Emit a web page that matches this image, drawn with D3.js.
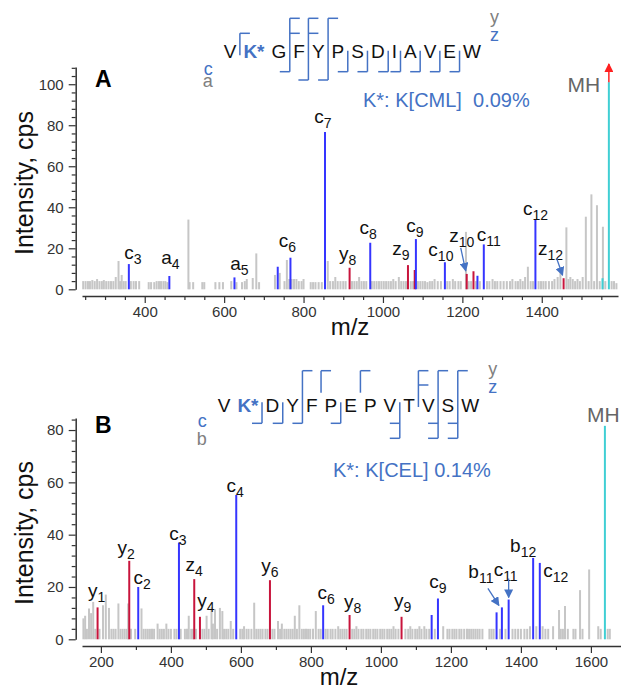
<!DOCTYPE html>
<html>
<head>
<meta charset="utf-8">
<script src="https://cdn.jsdelivr.net/npm/d3@7"></script>
<style>
  body { margin: 0; background: #fff; }
  svg { display: block; font-family: "Liberation Sans", Arial, sans-serif; }
</style>
</head>
<body>
<div id="container"></div>
<script>
// ---------- panel A : VK*GFYPSDIAVEW, K[CML] ----------
let seqA = ["V","K*","G","F","Y","P","S","D","I","A","V","E","W"];
// cleavage sites, counted as "after residue n"
let topYA = [3, 4, 5];
let topZA = [1, 3, 4];
let botCA = [3, 6, 7, 8, 9, 10, 11, 12];
let botNA = [4, 5];            // a ions
// [m/z, intensity, kind, ion letter, index]
let ionsA = [
  [360, 12.3, "N", "c", "3"], [462, 6.5, "N", "a", "4"], [626, 5.8, "N", "a", "5"],
  [735, 11, "N", "", ""], [767, 15.4, "N", "c", "6"], [854, 76.7, "N", "c", "7"],
  [916, 10.5, "C", "y", "8"], [968, 22.7, "N", "c", "8"], [1063, 11.8, "C", "z", "9"],
  [1080, 9.4, "C", "", ""], [1083, 24.5, "N", "c", "9"], [1156, 13.2, "N", "c", "10"],
  [1211, 7.5, "C", "z", "10"], [1228, 8.8, "C", "", ""], [1238, 6.6, "N", "", ""],
  [1254, 21.9, "N", "c", "11"], [1384, 34.1, "N", "c", "12"], [1455, 5.4, "C", "z", "12"],
  [1553, 5.4, "P", "", ""], [1569, 101, "P", "MH", ""]
];
let noiseA = [
  [245,4],[251,4],[257,4],[262,4],[268,4.5],[274,4],[280,5],[286,4],[292,4],[297,4.5],
  [303,4],[309,4],[315,4],[321,4],[327,6],[334,13.8],[338,4],[342,7],[347,4],[352,4],
  [365,4],[372,4],[378,4],[386,4],[410,3.5],[416,3.5],[424,3.5],[430,4],[436,4],[441,4],
  [447,4],[452,4],[457,3.5],[510,34],[513,3.5],[522,3.5],[545,3.5],[550,3.5],[578,3.5],
  [588,3.5],[597,3.5],[618,4],[631,3.5],[645,3.5],[652,4],[657,5],[672,5.5],[681,17.5],
  [688,3.5],[728,7],[740,8],[752,4],[758,14.3],[764,5],[770,5],[776,5],[782,5],[788,4],
  [795,4],[800,5],[818,3.5],[824,3.5],[830,3.5],[838,3.5],[846,3.5],[861,13.8],[867,4],
  [874,4],[880,6],[886,4],[893,4],[900,4],[906,4],[922,4],[928,4],[934,4],[940,6],[946,4],
  [952,4],[958,4],[972,4],[978,4],[984,4],[990,4],[996,4],[1002,4],[1008,4],[1014,4],
  [1020,4],[1026,5],[1032,4],[1040,6],[1046,4],[1052,4],[1058,4],[1070,4],[1076,4],
  [1088,4],[1094,4],[1100,4],[1106,4],[1112,3.5],[1118,4],[1124,4],[1130,5],[1138,4],
  [1146,4],[1162,4],[1168,4],[1176,5],[1182,4],[1190,4],[1196,4],[1209,28],[1216,4],
  [1222,4],[1234,4],[1244,4],[1262,4],[1268,4],[1276,5],[1282,4],[1288,4],[1296,4],
  [1304,4],[1312,4],[1320,4],[1326,5],[1334,4],[1340,4],[1346,5],[1352,4],[1358,6],
  [1365,11],[1372,4],[1378,4],[1392,4],[1398,4],[1404,4],[1410,4],[1418,4],[1426,4],
  [1432,5],[1440,6],[1447,8.6],[1462,30.2],[1467,5],[1472,6],[1478,5],[1484,4],[1490,5],
  [1496,4],[1503,6],[1511,35.4],[1518,4],[1525,46.3],[1532,4],[1539,41],[1546,4],
  [1554,30.5],[1560,4],[1576,4],[1582,4],[1588,3]
];
let xTicksA = [400, 600, 800, 1000, 1200, 1400];
let yTicksA = [0, 20, 40, 60, 80, 100];

// ---------- panel B : VK*DYFPEPVTVSW, K[CEL] ----------
let seqB = ["V","K*","D","Y","F","P","E","P","V","T","V","S","W"];
let topYB = [4, 5, 7, 10, 11, 12];
let topZB = [10];
let botCB = [2, 3, 4, 6, 9, 11, 12];
let botNB = [9, 11, 12];       // b ions
let ionsB = [
  [190.5, 12.2, "C", "y", "1"], [281, 30, "C", "y", "2"], [306.7, 20, "N", "c", "2"],
  [423, 37, "N", "c", "3"], [466.7, 23, "C", "z", "4"], [483, 8.6, "C", "y", "4"],
  [586.7, 55.2, "N", "c", "4"], [683, 22.6, "C", "y", "6"], [835, 13, "N", "c", "6"],
  [910.5, 9.3, "C", "y", "8"], [1059, 8.6, "C", "y", "9"], [1145, 9.3, "N", "", ""],
  [1163, 15.6, "N", "c", "9"], [1330.5, 10.3, "N", "", ""], [1345.7, 12.2, "N", "b", "11"],
  [1365, 15.2, "N", "c", "11"], [1435, 31.1, "N", "b", "12"], [1454, 29.2, "N", "c", "12"],
  [1640, 81.6, "P", "MH", ""]
];
let noiseB = [
  [150,8],[155,9],[160,4],[166,11.8],[172,10],[178,14.3],[184,4],[196,4],[206,13],[214,17.1],
  [223,12],[230,4],[236,4],[242,4],[250,13.7],[256,4],[262,4],[268,4],[274,4],[278,13.7],
  [286,4],[298,4],[316,11.8],[322,4],[328,4],[334,4],[340,4],[346,4],[352,4],[362,6],
  [368,4],[374,4],[380,4],[387,6],[393,4],[400,4],[410,4],[416,4],[428,4],[440,4],[446,4],
  [451,9],[458,4],[463,4],[472,4],[490,4],[496,4],[502,9],[508,4],[516,12.3],[520,6],
  [526,11.5],[532,4],[540,12],[547,10.8],[552,4],[558,4],[564,4],[571,7],[578,4],[598,4],
  [604,4],[609,5],[616,4],[622,4],[630,4],[638,14],[644,4],[650,4],[656,4],[662,4],[670,4],
  [676,4],[690,4],[696,4],[706,7],[712,4],[717,6],[724,4],[730,4],[736,4],[742,4],[748,4],
  [754,9],[760,4],[767,13],[774,4],[780,4],[786,4],[792,4],[798,4],[806,4],[814,10.8],
  [822,4],[828,4],[842,4],[848,4],[856,4],[862,4],[870,4],[878,5],[884,4],[890,4],[896,4],
  [902,4],[918,4],[924,4],[930,5],[936,4],[944,4],[950,4],[958,4],[964,4],[970,4],[978,4],
  [984,4],[990,4],[998,4],[1004,4],[1010,4],[1018,4],[1024,4],[1030,4],[1036,5],[1042,4],
  [1050,4],[1070,4],[1078,4],[1084,5],[1090,4],[1098,4],[1104,4],[1110,5],[1116,4],
  [1124,5],[1130,4],[1138,4],[1154,4],[1178,5],[1190,4],[1196,4],[1204,4],[1210,4],
  [1216,4],[1224,4],[1230,4],[1238,4],[1246,4],[1252,4],[1258,4],[1264,4],[1270,4],
  [1276,4],[1282,4],[1290,4],[1310,4],[1316,4],[1322,4],[1340,4],[1356,4],[1376,4],
  [1384,4],[1392,4],[1400,4],[1410,4],[1418,4],[1426,5],[1444,5],[1462,5],[1470,4],
  [1478,4],[1492,5],[1509,11.2],[1514,4],[1520,4],[1526,12.7],[1534,4],[1550,4],[1556,4],
  [1569,18.8],[1576,4],[1595,26.7],[1621,5],[1628,4],[1648,4],[1654,4]
];
let xTicksB = [200, 400, 600, 800, 1000, 1200, 1400, 1600];
let yTicksB = [0, 20, 40, 60, 80];

// ---------- layout ----------
let w = 621;
let h = 690;
let blueSeq = "#4472c4";
let peakColor = { N: "#3535ff", C: "#c8143c", P: "#40cfd4" };
let fontFam = "'Liberation Sans', Arial, sans-serif";

let svg = d3.select("#container").append("svg")
  .attr("width", w).attr("height", h);

let defs = svg.append("defs");
function marker(id, color){
  defs.append("marker")
    .attr("id", id).attr("viewBox", "0 0 10 10")
    .attr("refX", 9).attr("refY", 5)
    .attr("markerUnits", "userSpaceOnUse")
    .attr("markerWidth", 9).attr("markerHeight", 9)
    .attr("orient", "auto")
    .append("path").attr("d", "M0,0 L10,5 L0,10 z").attr("fill", color);
}
marker("arrBlue", blueSeq);
marker("arrRed", "#ff2020");

let panelA = {
  seq: seqA, topY: topYA, topZ: topZA, botC: botCA, botN: botNA, nName: "a",
  ions: ionsA, noise: noiseA, xTicks: xTicksA, yTicks: yTicksA,
  xDomain: [242, 1592], xRange: [82, 618], yDomain: [0, 108.4], yRange: [289.3, 67],
  xAxisY: 296, yAxisX: 75.7, xMinor: 50, yMinor: 4,
  seqLeft: 223.7, seqBase: 58.3, lvY: 18.3, lvZ: 33.3, lvC: 71.7, lvN: 80,
  tag: "A", tagY: 87, mod: "K*: K[CML]  0.09%", modX: 363, modY: 107,
  mzX: 350, mzY: 335, intY: 183,
  offscale: true,
  nudge: {
    c3: [4,-5], a4: [1,-12], a5: [5,-7], c6: [-3,-11], c7: [-2,-9], y8: [-2,-8],
    c8: [-2,-9], z9: [-7,-10], c9: [-1,-7], c10: [-4,-6], z10: [-5,-32], c11: [5,-3],
    c12: [0,-4], z12: [-13,-23], MH: [-25,10]
  },
  arrows: { z10: [-6,-26,-1,-3], z12: [-7,-20,-1,-3] }
};

let panelB = {
  seq: seqB, topY: topYB, topZ: topZB, botC: botCB, botN: botNB, nName: "b",
  ions: ionsB, noise: noiseB, xTicks: xTicksB, yTicks: yTicksB,
  xDomain: [146, 1686], xRange: [82, 621], yDomain: [0, 84.6], yRange: [639.3, 418],
  xAxisY: 646, yAxisX: 75.7, xMinor: 100, yMinor: 4,
  seqLeft: 217.7, seqBase: 411.7, lvY: 370.7, lvZ: 385, lvC: 423.3, lvN: 438.3,
  tag: "B", tagY: 433, mod: "K*: K[CEL] 0.14%", modX: 333, modY: 477,
  mzX: 339, mzY: 685, intY: 533,
  offscale: false,
  nudge: {
    y1: [-1,-10], y2: [-3,-7], c2: [4,-3], c3: [-1,-3], z4: [0,-8], y4: [6,-10],
    c4: [-1,-3], y6: [0,-8], c6: [3,-6], y8: [3,-7], y9: [1,-10], c9: [0,-10],
    b11: [-21,-29], c11: [-3,-24], b12: [-10,-6], c12: [16,14], MH: [-1.5,-4]
  },
  arrows: { b11: [-14,-19,-3,-2], c11: [0,-21,0,-2] }
};

drawPanel(panelA);
drawPanel(panelB);

function drawPanel(p){
  let g = svg.append("g");
  let xScale = d3.scaleLinear().domain(p.xDomain).range(p.xRange);
  let yScale = d3.scaleLinear().domain(p.yDomain).range(p.yRange);

  // axes
  let xMinorTicks = d3.range(Math.ceil(p.xDomain[0] / p.xMinor) * p.xMinor, p.xDomain[1], p.xMinor)
    .filter(function(v){ return p.xTicks.indexOf(v) < 0; });
  let yMinorTicks = d3.range(0, p.yDomain[1], p.yMinor)
    .filter(function(v){ return p.yTicks.indexOf(v) < 0; });

  let xAxisGroup = g.append("g").attr("transform", "translate(0," + p.xAxisY + ")");
  xAxisGroup.call(d3.axisBottom(xScale).tickValues(p.xTicks).tickFormat(d3.format("d"))
    .tickSize(7).tickSizeOuter(0).tickPadding(3));
  xAxisGroup.append("g").call(d3.axisBottom(xScale).tickValues(xMinorTicks).tickSize(4).tickSizeOuter(0).tickFormat(""))
    .select(".domain").remove();

  let yAxisGroup = g.append("g").attr("transform", "translate(" + p.yAxisX + ",0)");
  yAxisGroup.call(d3.axisLeft(yScale).tickValues(p.yTicks).tickFormat(d3.format("d"))
    .tickSize(7).tickSizeOuter(0).tickPadding(5));
  yAxisGroup.append("g").call(d3.axisLeft(yScale).tickValues(yMinorTicks).tickSize(4).tickSizeOuter(0).tickFormat(""))
    .select(".domain").remove();

  [xAxisGroup, yAxisGroup].forEach(function(ax){
    ax.attr("font-family", fontFam).attr("font-size", 15);
    ax.selectAll(".domain").attr("stroke", "#333").attr("stroke-width", 1.5);
    ax.selectAll(".tick line").attr("stroke", "#333").attr("stroke-width", 1.2);
    ax.selectAll(".tick text").attr("fill", "#333");
  });

  g.append("text")
    .attr("transform", "translate(33," + p.intY + ") rotate(-90)")
    .attr("text-anchor", "middle")
    .attr("font-size", 25).attr("fill", "#111")
    .text("Intensity, cps");
  g.append("text")
    .attr("x", p.mzX).attr("y", p.mzY)
    .attr("text-anchor", "middle")
    .attr("font-size", 24).attr("fill", "#111")
    .text("m/z");
  g.append("text")
    .attr("x", 95).attr("y", p.tagY)
    .attr("font-size", 23).attr("font-weight", "bold")
    .text(p.tag);

  // spectrum
  let y0 = yScale(0);
  g.selectAll(".noise").data(p.noise).enter()
    .append("line")
      .attr("class", "noise")
      .attr("x1", function(d){ return xScale(d[0]); })
      .attr("x2", function(d){ return xScale(d[0]); })
      .attr("y1", y0)
      .attr("y2", function(d){ return yScale(d[1]); })
      .attr("stroke", "#c6c6c6")
      .attr("stroke-width", 2);

  g.selectAll(".ion").data(p.ions).enter()
    .append("line")
      .attr("class", "ion")
      .attr("x1", function(d){ return xScale(d[0]); })
      .attr("x2", function(d){ return xScale(d[0]); })
      .attr("y1", y0)
      .attr("y2", function(d){ return yScale(d[1]); })
      .attr("stroke", function(d){ return peakColor[d[2]]; })
      .attr("stroke-width", 2);

  // precursor above the scale gets a red arrow
  if (p.offscale){
    let mh = p.ions.filter(function(d){ return d[3] === "MH"; })[0];
    g.append("line")
      .attr("x1", xScale(mh[0])).attr("x2", xScale(mh[0]))
      .attr("y1", yScale(mh[1])).attr("y2", yScale(p.yDomain[1]) - 3)
      .attr("stroke", "#ff2020").attr("stroke-width", 1.5)
      .attr("marker-end", "url(#arrRed)");
  }

  // ion labels
  p.ions.filter(function(d){ return d[3] !== ""; }).forEach(function(d){
    let key = d[3] + d[4];
    let off = p.nudge[key] || [0, -6];
    let px = xScale(d[0]);
    let py = yScale(d[1]);
    let t = g.append("text")
      .attr("x", px + off[0]).attr("y", py + off[1])
      .attr("text-anchor", "middle");
    if (d[3] === "MH"){
      t.attr("font-size", 21).attr("fill", "#666").text("MH");
    } else {
      t.attr("fill", "#111");
      t.append("tspan").attr("font-size", 19).text(d[3]);
      t.append("tspan").attr("font-size", 14).attr("dy", 5).text(d[4]);
    }
    let a = p.arrows[key];
    if (a){
      g.append("line")
        .attr("x1", px + a[0]).attr("y1", py + a[1])
        .attr("x2", px + a[2]).attr("y2", py + a[3])
        .attr("stroke", blueSeq).attr("stroke-width", 1.3)
        .attr("marker-end", "url(#arrBlue)");
    }
  });

  // peptide sequence with fragment ladder
  let seqG = g.append("g");
  let gap = 7;
  let cursor = p.seqLeft;
  let boxes = [];
  p.seq.forEach(function(r){
    let mod = r.indexOf("*") >= 0;
    let t = seqG.append("text")
      .attr("x", cursor).attr("y", p.seqBase)
      .attr("font-size", 19)
      .attr("font-weight", mod ? "bold" : "normal")
      .attr("fill", mod ? blueSeq : "#111")
      .text(r);
    let wd = t.node().getComputedTextLength();
    boxes.push([cursor, cursor + wd]);
    cursor += wd + gap;
  });

  let hook = 10;
  for (let s = 1; s < p.seq.length; s++){
    let sx = (boxes[s - 1][1] + boxes[s][0]) / 2;
    let tops = [];
    if (p.topY.indexOf(s) >= 0) tops.push(p.lvY);
    if (p.topZ.indexOf(s) >= 0) tops.push(p.lvZ);
    let bots = [];
    if (p.botC.indexOf(s) >= 0) bots.push(p.lvC);
    if (p.botN.indexOf(s) >= 0) bots.push(p.lvN);
    if (!tops.length && !bots.length) continue;
    let vTop = tops.length ? d3.min(tops) : d3.min(bots) - 21;
    let vBot = bots.length ? d3.max(bots) : d3.max(tops) + 22;
    seqG.append("line").attr("x1", sx).attr("x2", sx).attr("y1", vTop).attr("y2", vBot);
    tops.forEach(function(ly){
      seqG.append("line").attr("x1", sx).attr("x2", sx + hook).attr("y1", ly).attr("y2", ly);
    });
    bots.forEach(function(ly){
      seqG.append("line").attr("x1", sx - hook).attr("x2", sx).attr("y1", ly).attr("y2", ly);
    });
  }
  seqG.selectAll("line").attr("stroke", blueSeq).attr("stroke-width", 1.5);

  // ion type legend
  let rightX = boxes[boxes.length - 1][1] + 9;
  let leftX = boxes[0][0] - 11;
  seqG.append("text").attr("x", rightX).attr("y", p.lvY + 4.4).attr("font-size", 18).attr("fill", "#808080").text("y");
  seqG.append("text").attr("x", rightX).attr("y", p.lvZ + 8).attr("font-size", 18).attr("fill", blueSeq).text("z");
  seqG.append("text").attr("x", leftX).attr("y", p.lvC + 3.4).attr("text-anchor", "end").attr("font-size", 18).attr("fill", blueSeq).text("c");
  seqG.append("text").attr("x", leftX).attr("y", p.lvN + 7).attr("text-anchor", "end").attr("font-size", 18).attr("fill", "#808080").text(p.nName);

  g.append("text")
    .attr("x", p.modX).attr("y", p.modY)
    .attr("font-size", 20).attr("fill", blueSeq)
    .style("white-space", "pre")
    .text(p.mod);
}
</script>
</body>
</html>
